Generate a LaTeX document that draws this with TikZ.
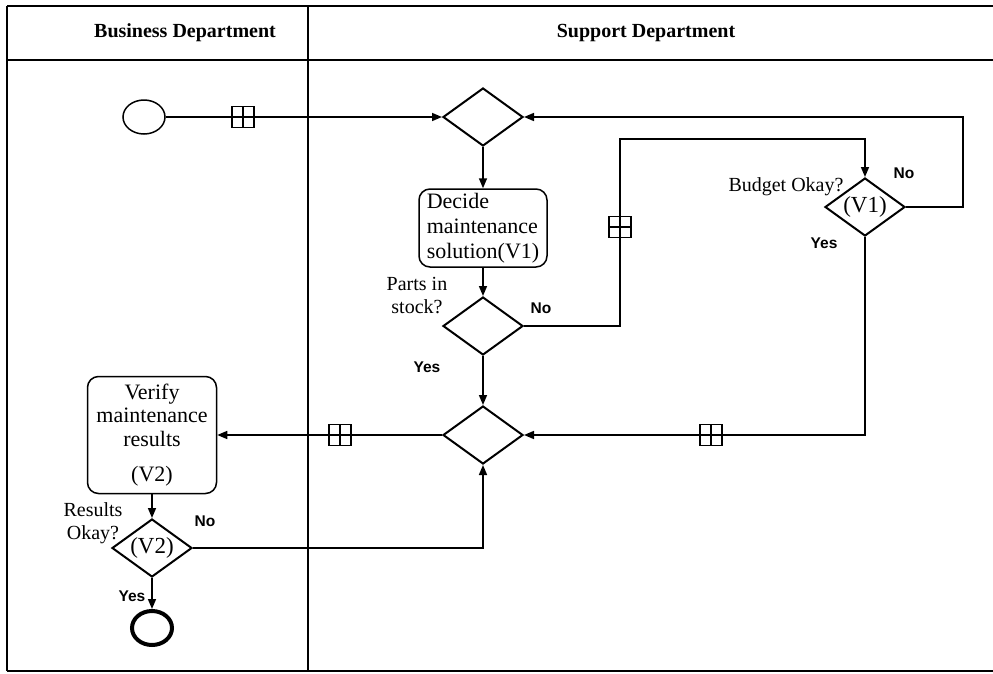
\documentclass[tikz,border=0pt]{standalone}
\usepackage{fontspec}
\setmainfont{Liberation Serif}
\newfontfamily\lblsans{Liberation Sans}
\usetikzlibrary{shapes.geometric,arrows.meta}
\begin{document}
\begin{tikzpicture}[x=1pt,y=-1pt,
  frameline/.style={line width=1.6pt},
  conn/.style={line width=1.6pt},
  arr/.style={conn,-{Triangle[length=10pt,width=8pt]}},
  gate/.style={diamond,draw,line width=2pt,minimum width=80pt,minimum height=58pt,aspect=1.4,inner sep=0pt,font=\fontsize{23}{25}\selectfont},
  task/.style={draw,rounded corners=11pt,line width=1.5pt,inner sep=0pt},
  msg/.style={draw,fill=white,line width=1.3pt,minimum width=22pt,minimum height=21pt,inner sep=0pt,
    path picture={\draw[line width=1.3pt] (path picture bounding box.north) -- (path picture bounding box.south)
      (path picture bounding box.west) -- (path picture bounding box.east);}},
  lbl/.style={font=\fontsize{20}{23}\selectfont,align=center,inner sep=0pt},
  yn/.style={font=\lblsans\bfseries\fontsize{15.5}{17}\selectfont,inner sep=0pt},
  hdr/.style={font=\bfseries\fontsize{20}{22}\selectfont,inner sep=0pt}
]
\useasboundingbox (0,0) rectangle (993,673);
% frame
\draw[frameline] (7,6) -- (993,6);
\draw[frameline] (7,60) -- (993,60);
\draw[line width=1.4pt] (7,6) -- (7,671);
\draw[frameline] (7,671) -- (993,671);
\draw[line width=1.3pt] (308,6) -- (308,671);
\node[hdr] (h1) at (185,33) {Business Department};
\node[hdr] (h2) at (646,33) {Support Department};

% nodes
\node[ellipse,draw,line width=1.5pt,minimum width=42pt,minimum height=34pt,inner sep=0pt] (start) at (144,117) {};
\node[gate] (g1) at (483,117) {};
\node[task,minimum width=128pt,minimum height=78pt,align=left,font=\fontsize{22}{25}\selectfont] (decide) at (483,228) {Decide\\maintenance\\solution(V1)};
\node[gate] (parts) at (483,326) {};
\node[gate] (bud) at (865,207) {(V1)};
\node[gate] (merge) at (483,435) {};
\node[task,minimum width=129pt,minimum height=117pt,align=center,font=\fontsize{22}{23.5}\selectfont] (verify) at (152,435) {Verify\\maintenance\\results\\[12pt](V2)};
\node[gate] (v2) at (152,548) {(V2)};
\node[ellipse,draw,line width=4pt,minimum width=40pt,minimum height=34pt,inner sep=0pt] (end) at (152,628) {};

\coordinate (c1) at (620,139);
\coordinate (c2) at (963,117);

% connectors
\draw[arr] (start.east) -- (g1.west);
\draw[arr] (g1.south) -- (decide.north);
\draw[arr] (decide.south) -- (parts.north);
\draw[arr] (parts.south) -- (merge.north);
\draw[arr] (parts.east) -| (c1) -| (bud.north);
\draw[arr] (bud.east) -| (c2) -- (g1.east);
\draw[arr] (bud.south) |- (merge.east);
\draw[arr] (merge.west) -- (verify.east);
\draw[arr] (verify.south) -- (v2.north);
\draw[arr] (v2.east) -| (merge.south);
\draw[arr] (v2.south) -- (end.north);

% message markers
\node[msg] (m1) at (243,117) {};
\node[msg] (m2) at (620,227) {};
\node[msg] (m3) at (711,435) {};
\node[msg] (m4) at (340,435) {};

% labels
\node[lbl] (lparts) at (417,296) {Parts in\\stock?};
\node[yn] (no1) at (541,308) {No};
\node[yn] (yes1) at (427,367) {Yes};
\node[lbl] (lbud) at (786,187) {Budget Okay?};
\node[yn] (no2) at (904,173) {No};
\node[yn] (yes2) at (824,243) {Yes};
\node[lbl] (lres) at (93,523) {Results\\Okay?};
\node[yn] (no3) at (205,521) {No};
\node[yn] (yes3) at (132,596) {Yes};
\end{tikzpicture}
\end{document}
